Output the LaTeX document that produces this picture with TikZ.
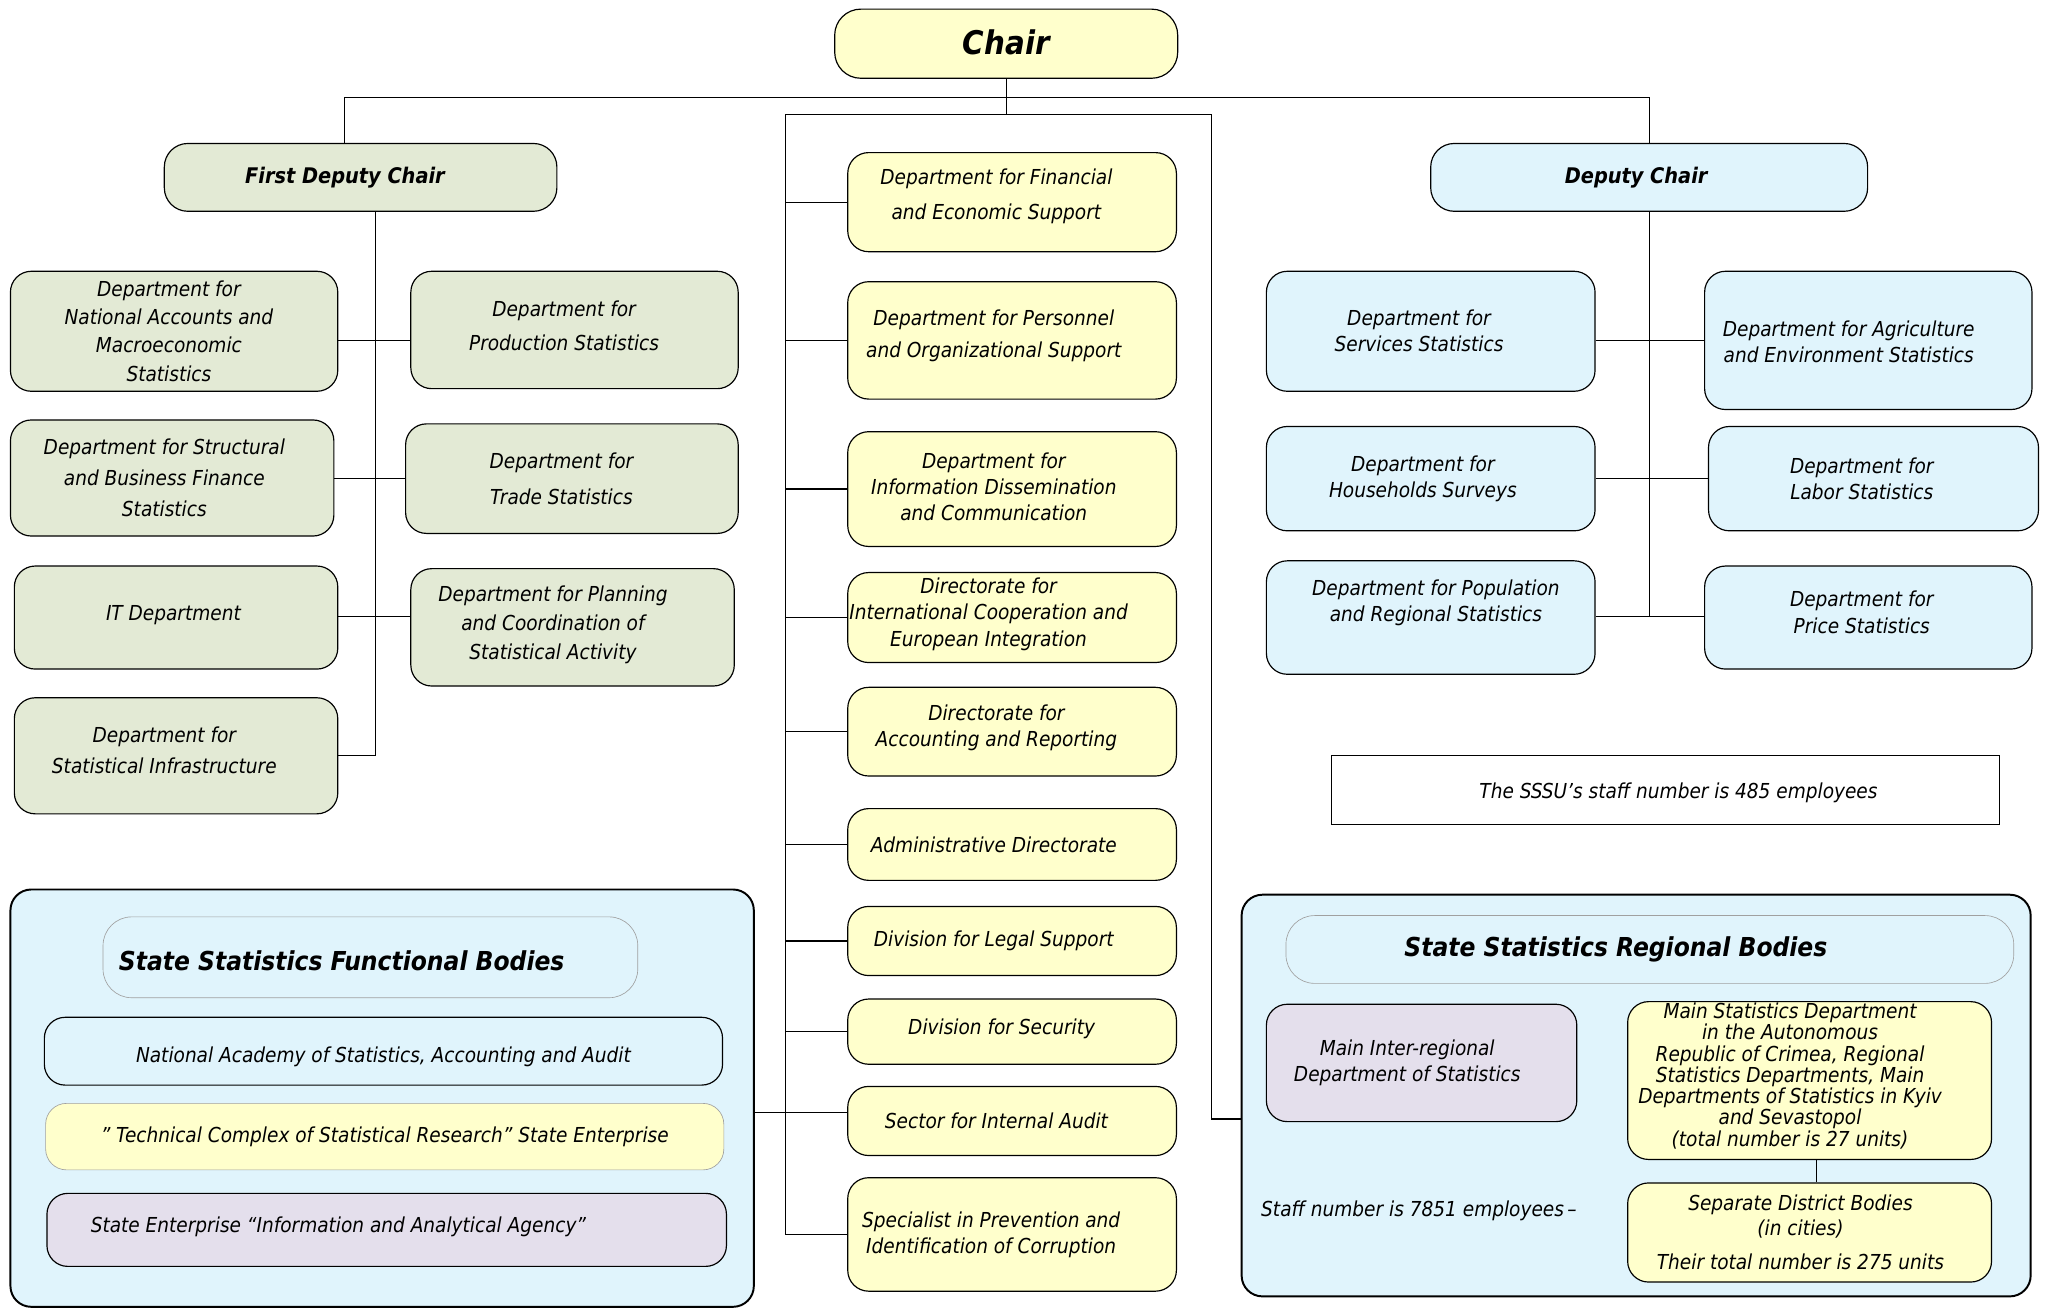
\documentclass[tikz,border=0pt]{standalone}
\usepackage{fontspec}
\setmainfont{DejaVu Sans Condensed}[ItalicFont={DejaVu Sans Condensed Oblique},BoldFont={DejaVu Sans Condensed Bold},BoldItalicFont={DejaVu Sans Condensed Bold Oblique}]
\definecolor{cgreen}{HTML}{E3EAD5}
\definecolor{cyel}{HTML}{FFFFCC}
\definecolor{cblue}{HTML}{E0F4FC}
\definecolor{clav}{HTML}{E4DFEC}
\definecolor{cgray}{HTML}{A0A0A0}
\tikzset{
  box/.style={draw, rounded corners=16pt, inner sep=0pt, line width=0.9pt},
  gbox/.style={box, fill=cgreen},
  ybox/.style={box, fill=cyel},
  bbox/.style={box, fill=cblue},
  lbox/.style={box, fill=clav},
  txt/.style={align=center, inner sep=0pt, font=\fontsize{15.8}{20}\selectfont\itshape},
  ls/.style={font=\fontsize{15.8}{#1}\selectfont\itshape},
  head/.style={font=\fontsize{16.5}{20}\selectfont\bfseries\itshape},
  bighead/.style={font=\fontsize{20}{24}\selectfont\bfseries\itshape},
  grp/.style={draw, rounded corners=16pt, line width=1.5pt, fill=cblue, inner sep=0pt},
  ttl/.style={draw=cgray, line width=0.5pt, rounded corners=22pt, fill=cblue, inner sep=0pt},
  conn/.style={line width=0.9pt}
}
% \bx{box style}{name}{x1}{y1}{x2}{y2}{text}{text options}
\newcommand\bx[8]{%
  \pgfmathsetmacro\bxcx{(#3+#5)/2}%
  \pgfmathsetmacro\bxcy{(#4+#6)/2}%
  \pgfmathsetmacro\bxw{#5-#3}%
  \pgfmathsetmacro\bxh{#6-#4}%
  \node[#1, minimum width=\bxw pt, minimum height=\bxh pt,
        label={[txt,#8]center:{#7}}] (#2) at (\bxcx,\bxcy) {};}
\begin{document}
\begin{tikzpicture}[x=1pt,y=-1pt]
\useasboundingbox[fill=white] (0,0) rectangle (1568,1004);

% top
\bx{ybox, rounded corners=20pt}{chair}{640}{7}{903}{60}{Chair}{font=\fontsize{25}{30}\selectfont\bfseries\itshape, yshift=1}
\bx{gbox, rounded corners=18pt}{fdc}{126}{110}{427}{162}{First Deputy Chair}{head, xshift=-12}
\bx{bbox, rounded corners=18pt}{dc}{1097}{110}{1432}{162}{Deputy Chair}{head, xshift=-10}

% first deputy chair departments
\bx{gbox}{na}{8}{208}{259}{300}{Department for\\National Accounts and\\Macroeconomic\\Statistics}{ls=21.5, xshift=-4}
\bx{gbox}{struct}{8}{322}{256}{411}{Department for Structural\\and Business Finance\\Statistics}{ls=24, xshift=-6}
\bx{gbox}{it}{11}{434}{259}{513}{IT Department}{xshift=-2, yshift=2}
\bx{gbox}{infra}{11}{535}{259}{624}{Department for\\Statistical Infrastructure}{ls=24, xshift=-9, yshift=4}
\bx{gbox}{prod}{315}{208}{566}{298}{Department for\\Production Statistics}{ls=26, xshift=-8, yshift=3}
\bx{gbox}{trade}{311}{325}{566}{409}{Department for\\Trade Statistics}{ls=28, xshift=-8}
\bx{gbox}{plan}{315}{436}{563}{526}{Department for Planning\\and Coordination of\\Statistical Activity}{ls=22.5, xshift=-15, yshift=2}

% deputy chair departments
\bx{bbox}{serv}{971}{208}{1223}{300}{Department for\\Services Statistics}{xshift=-9}
\bx{bbox}{house}{971}{327}{1223}{407}{Department for\\Households Surveys}{xshift=-6}
\bx{bbox}{pop}{971}{430}{1223}{517}{Department for Population\\and Regional Statistics}{xshift=4, yshift=11}
\bx{bbox}{agri}{1307}{208}{1558}{314}{Department for Agriculture\\and Environment Statistics}{xshift=-15, yshift=-1}
\bx{bbox}{labor}{1310}{327}{1563}{407}{Department for\\Labor Statistics}{xshift=-9}
\bx{bbox}{price}{1307}{434}{1558}{513}{Department for\\Price Statistics}{xshift=-5, yshift=4}

% center column
\bx{ybox}{fin}{650}{117}{902}{193}{Department for Financial\\and Economic Support}{ls=27, xshift=-12, yshift=4.5}
\bx{ybox}{pers}{650}{216}{902}{306}{Department for Personnel\\and Organizational Support}{ls=25, xshift=-14, yshift=3.5}
\bx{ybox}{info}{650}{331}{902}{419}{Department for\\Information Dissemination\\and Communication}{xshift=-14, yshift=2}
\bx{ybox}{intl}{650}{439}{902}{508}{Directorate for\\International Cooperation and\\European Integration}{xshift=-18, yshift=2.5}
\bx{ybox}{acc}{650}{527}{902}{595}{Directorate for\\Accounting and Reporting}{xshift=-12, yshift=3}
\bx{ybox}{admin}{650}{620}{902}{675}{Administrative Directorate}{xshift=-14}
\bx{ybox}{legal}{650}{695}{902}{748}{Division for Legal Support}{xshift=-14}
\bx{ybox}{sec}{650}{766}{902}{816}{Division for Security}{xshift=-8, yshift=2}
\bx{ybox}{audit}{650}{833}{902}{886}{Sector for Internal Audit}{xshift=-12}
\bx{ybox}{spec}{650}{903}{902}{990}{Specialist in Prevention and\\Identification of Corruption}{xshift=-16}

% staff note
\bx{draw, fill=white, line width=0.9pt, inner sep=0pt}{note}{1021}{579}{1533}{632}{The SSSU’s staff number is 485 employees}{xshift=10, yshift=-2.5}

% functional bodies
\bx{grp}{func}{8}{682}{578}{1002}{}{}
\bx{ttl}{functtl}{79}{703}{489}{765}{State Statistics Functional Bodies}{bighead, xshift=-22, yshift=-3}
\bx{bbox}{acad}{34}{780}{554}{832}{National Academy of Statistics, Accounting and Audit}{yshift=-4}
\bx{ybox, draw=cgray, line width=0.5pt}{tech}{35}{846}{555}{897}{” Technical Complex of Statistical Research” State Enterprise}{}
\bx{lbox}{iaa}{36}{915}{557}{971}{State Enterprise “Information and Analytical Agency”}{xshift=-37, yshift=2}

% regional bodies
\bx{grp}{reg}{952}{686}{1557}{994}{}{}
\bx{ttl}{regttl}{986}{702}{1544}{754}{State Statistics Regional Bodies}{bighead, xshift=-26}
\bx{lbox}{mird}{971}{770}{1209}{860}{Main Inter-regional\\Department of Statistics}{xshift=-11}
\bx{ybox}{msd}{1248}{768}{1527}{889}{Main Statistics Department\\in the Autonomous\\Republic of Crimea, Regional\\Statistics Departments, Main\\Departments of Statistics in Kyiv\\and Sevastopol\\(total number is 27 units)}{ls=16.3, xshift=-15, yshift=3.5}
\bx{ybox}{sdb}{1248}{907}{1527}{983}{Separate District Bodies\\(in cities)\\[7pt]Their total number is 275 units}{ls=19, xshift=-7}
\node[txt] (staff) at (1088,928) {Staff number is 7851 employees\,–};

% connectors: top
\coordinate (barL) at (264,75);
\coordinate (barR) at (1265,75);
\coordinate (cL) at (602,88);
\coordinate (cR) at (929,88);
\coordinate (cRb) at (929,858);
\draw[conn] (barL |- fdc.north) -- (barL) -- (barR) -- (barR |- dc.north);
\draw[conn] (chair.south) -- (chair.south |- cL);
\draw[conn] (cL) -- (cR) -- (cRb) -- (reg.west |- cRb);

% first deputy chair spine
\coordinate (fs) at (288,162);
\coordinate (r1) at (288,261);
\coordinate (r2) at (288,367);
\coordinate (r3) at (288,473);
\coordinate (r4) at (288,579);
\draw[conn] (fs) -- (r4) -- (infra.east |- r4);
\draw[conn] (na.east |- r1) -- (prod.west |- r1);
\draw[conn] (struct.east |- r2) -- (trade.west |- r2);
\draw[conn] (it.east |- r3) -- (plan.west |- r3);

% deputy chair spine
\coordinate (d1) at (1265,261);
\coordinate (d2) at (1265,367);
\coordinate (d3) at (1265,473);
\draw[conn] (dc.south -| d3) -- (d3);
\draw[conn] (serv.east |- d1) -- (agri.west |- d1);
\draw[conn] (house.east |- d2) -- (labor.west |- d2);
\draw[conn] (pop.east |- d3) -- (price.west |- d3);

% center spine
\draw[conn] (cL) -- (cL |- spec.west);
\foreach \n in {fin,pers,info,intl,acc,admin,legal,sec,spec}
  \draw[conn] (cL |- \n.west) -- (\n.west);
\coordinate (au) at (602,853);
\draw[conn] (func.east |- au) -- (audit.west |- au);

% regional
\coordinate (vx) at (1393,0);
\draw[conn] (msd.south -| vx) -- (sdb.north -| vx);
\end{tikzpicture}
\end{document}
